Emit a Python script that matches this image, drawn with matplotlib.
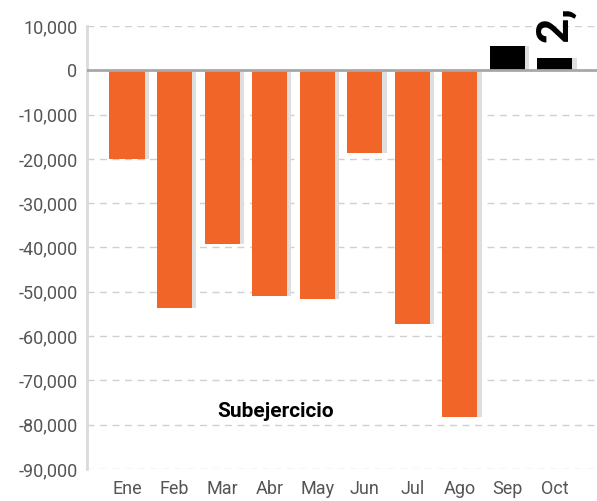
import matplotlib.pyplot as plt
from matplotlib.ticker import FuncFormatter

months = ['Ene', 'Feb', 'Mar', 'Abr', 'May', 'Jun', 'Jul', 'Ago', 'Sep', 'Oct']
values = [-20000, -53700, -39300, -51000, -51700, -18700, -57300, -78300, 5600, 2800]
yticks = list(range(-90000, 10001, 10000))

plt.rcParams['font.family'] = ['Liberation Sans Narrow', 'Roboto', 'DejaVu Sans']

fig = plt.figure(figsize=(5.97, 5.01), dpi=100)
ax = fig.add_axes([0.146, 0.064, 0.854, 0.884])

x = list(range(len(months)))
colors = ['#F26529' if v < 0 else '#000000' for v in values]

# grey drop shadow behind each bar
ax.bar([i + 0.09 for i in x], values, width=0.74, color='#DEDEDE', zorder=2)
ax.bar(x, values, width=0.74, color=colors, zorder=3)

ax.set_xlim(-0.84, 9.89)
ax.set_ylim(-90000, 10000)
ax.set_yticks(yticks)
ax.yaxis.set_major_formatter(FuncFormatter(lambda v, p: f'{int(v):,}'))
ax.set_xticks(x)
ax.set_xticklabels(months)

ax.grid(axis='y', linestyle=(0, (5, 4)), color='#D0D0D0', linewidth=1, zorder=0)
ax.axhline(0, color='#A8A8A8', linewidth=2, zorder=4)

for s in ['top', 'right', 'bottom']:
    ax.spines[s].set_visible(False)
ax.spines['left'].set_color('#DADADA')
ax.spines['left'].set_linewidth(2)

ax.tick_params(length=0, labelsize=13, colors='#555555', pad=7)
ax.tick_params(axis='x', pad=8)

ax.text(3.12, -77000, 'Subejercicio', fontsize=15, fontweight='bold',
        family=['Roboto', 'DejaVu Sans'], ha='center', va='center', zorder=5)
ax.text(9.0, 6300, '2,', fontsize=32, fontweight='bold', rotation=90,
        family=['Roboto', 'DejaVu Sans'], ha='center', va='bottom', zorder=5, clip_on=False)

fig.savefig('out.png', dpi=100)
